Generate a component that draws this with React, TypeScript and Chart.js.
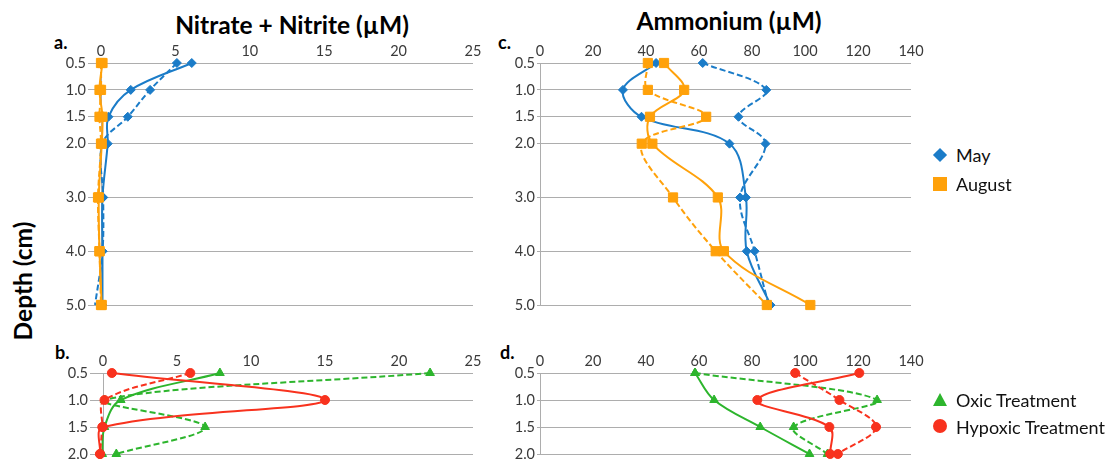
import React, { useEffect, useRef } from "react";
import { Chart, registerables } from "chart.js";

Chart.register(...registerables);

// ---------- data ----------
const depthTicksFull = [0.5, 1.0, 1.5, 2.0, 3.0, 4.0, 5.0];
const depthTicksShort = [0.5, 1.0, 1.5, 2.0];
const depthsFull = [0.5, 1.0, 1.5, 2.0, 3.0, 4.0, 5.0];
const depthsShort = [0.5, 1.0, 1.5, 2.0];

// a. Nitrate + Nitrite (µM), May / August
const nitrateMaySolid = [6.1, 2.0, 0.5, 0.45, 0.1, 0.1, 0.1];
const nitrateMayDashed = [5.1, 3.3, 1.8, 0.1, 0.15, 0.1, -0.4];
const nitrateAugSolid = [0.1, -0.1, 0.1, 0.05, -0.15, -0.1, 0.05];
const nitrateAugDashed = [0.0, 0.0, -0.1, 0.0, -0.2, -0.1, 0.0];

// c. Ammonium (µM), May / August
const ammoniumMaySolid = [43.8, 31.3, 38.3, 71.5, 77.7, 78.0, 87.0];
const ammoniumMayDashed = [61.4, 85.4, 74.9, 85.1, 75.5, 81.0, 86.3];
const ammoniumAugSolid = [46.8, 54.4, 41.5, 42.4, 67.1, 69.4, 102.0];
const ammoniumAugDashed = [40.7, 40.7, 62.7, 38.4, 50.2, 66.3, 85.6];

// b. Nitrate + Nitrite (µM), Oxic / Hypoxic
const nitrateHypoxicSolid = [0.6, 15.0, 0.0, -0.2];
const nitrateHypoxicDashed = [5.9, 0.1, -0.05, -0.2];
const nitrateOxicSolid = [7.9, 1.2, 0.1, -0.05];
const nitrateOxicDashed = [22.1, 0.1, 6.9, 0.9];

// d. Ammonium (µM), Oxic / Hypoxic
const ammoniumHypoxicSolid = [120.5, 82.0, 109.2, 109.5];
const ammoniumHypoxicDashed = [96.3, 113.0, 126.8, 112.4];
const ammoniumOxicSolid = [58.5, 65.7, 83.1, 101.7];
const ammoniumOxicDashed = [58.5, 127.2, 95.7, 108.5];

// ---------- styles ----------
const BLUE = "#1B7CC8";
const ORANGE = "#FFA10A";
const GREEN = "#2DB52D";
const RED = "#F8321E";
const GRID = "#ADADAD";
const TICK = "#3A3A3A";
const FONT = "Lato, 'Open Sans', sans-serif";

function ds(
  label: string,
  xs: number[],
  depths: number[],
  color: string,
  dashed: boolean,
  pointStyle: string,
  radius: number
) {
  return {
    label,
    data: depths.map((d, i) => ({ x: xs[i], y: d })),
    borderColor: color,
    backgroundColor: color,
    borderWidth: 2,
    borderDash: dashed ? [6, 3] : [],
    pointStyle,
    pointRadius: radius,
    pointBorderWidth: 1,
    pointBackgroundColor: color,
    pointBorderColor: color,
    showLine: true,
    tension: 0.35,
    capBezierPoints: false,
    clip: false,
    fill: false,
  };
}

type PanelProps = {
  left: number;
  top: number;
  width: number;
  height: number;
  yAxisWidth: number;
  xAxisHeight: number;
  padRight: number;
  padBottom: number;
  xMax: number;
  xStep: number;
  yMax: number;
  yTicks: number[];
  tickLength: number;
  tickPad: number;
  datasets: any[];
};

function Panel(p: PanelProps) {
  const ref = useRef<HTMLCanvasElement | null>(null);
  useEffect(() => {
    if (!ref.current) return;
    const chart = new Chart(ref.current, {
      type: "scatter",
      data: { datasets: p.datasets },
      options: {
        responsive: false,
        animation: false,
        devicePixelRatio: 1,
        layout: { padding: { left: 0, top: 0, right: p.padRight, bottom: p.padBottom } },
        plugins: { legend: { display: false }, tooltip: { enabled: false } },
        events: [],
        scales: {
          x: {
            type: "linear",
            position: "top",
            min: 0,
            max: p.xMax,
            ticks: {
              stepSize: p.xStep,
              color: TICK,
              font: { family: FONT, size: 14.5 },
              padding: 3,
              maxRotation: 0,
            },
            grid: { display: false, drawTicks: false },
            border: { display: false },
            afterFit: (s: any) => {
              s.height = p.xAxisHeight;
            },
          },
          y: {
            type: "linear",
            reverse: true,
            min: 0.5,
            max: p.yMax,
            afterBuildTicks: (s: any) => {
              s.ticks = p.yTicks.map((v) => ({ value: v }));
            },
            ticks: {
              callback: (v: any) => Number(v).toFixed(1),
              color: TICK,
              font: { family: FONT, size: 14.5 },
              padding: p.tickPad,
            },
            grid: { color: GRID, lineWidth: 1, drawTicks: true, tickLength: p.tickLength },
            border: { display: true, color: GRID, width: 1 },
            afterFit: (s: any) => {
              s.width = p.yAxisWidth;
            },
          },
        },
      } as any,
    });
    return () => chart.destroy();
  }, []);
  return (
    <canvas
      ref={ref}
      width={p.width}
      height={p.height}
      style={{ position: "absolute", left: p.left, top: p.top, width: p.width, height: p.height }}
    />
  );
}

const abs = (o: any) => ({ position: "absolute" as const, ...o });

export default function App() {
  const panelA = [
    ds("August", nitrateAugSolid, depthsFull, ORANGE, false, "rect", 6.5),
    ds("August (dashed)", nitrateAugDashed, depthsFull, ORANGE, true, "rect", 6.5),
    ds("May", nitrateMaySolid, depthsFull, BLUE, false, "rectRot", 4.5),
    ds("May (dashed)", nitrateMayDashed, depthsFull, BLUE, true, "rectRot", 4.5),
  ];
  const panelC = [
    ds("August", ammoniumAugSolid, depthsFull, ORANGE, false, "rect", 6.5),
    ds("August (dashed)", ammoniumAugDashed, depthsFull, ORANGE, true, "rect", 6.5),
    ds("May", ammoniumMaySolid, depthsFull, BLUE, false, "rectRot", 4.5),
    ds("May (dashed)", ammoniumMayDashed, depthsFull, BLUE, true, "rectRot", 4.5),
  ];
  const panelB = [
    ds("Hypoxic Treatment", nitrateHypoxicSolid, depthsShort, RED, false, "circle", 4.5),
    ds("Hypoxic Treatment (dashed)", nitrateHypoxicDashed, depthsShort, RED, true, "circle", 4.5),
    ds("Oxic Treatment", nitrateOxicSolid, depthsShort, GREEN, false, "triangle", 5),
    ds("Oxic Treatment (dashed)", nitrateOxicDashed, depthsShort, GREEN, true, "triangle", 5),
  ];
  const panelD = [
    ds("Hypoxic Treatment", ammoniumHypoxicSolid, depthsShort, RED, false, "circle", 4.5),
    ds("Hypoxic Treatment (dashed)", ammoniumHypoxicDashed, depthsShort, RED, true, "circle", 4.5),
    ds("Oxic Treatment", ammoniumOxicSolid, depthsShort, GREEN, false, "triangle", 5),
    ds("Oxic Treatment (dashed)", ammoniumOxicDashed, depthsShort, GREEN, true, "triangle", 5),
  ];

  const titleStyle = { fontFamily: FONT, fontWeight: 700, fontSize: 24.5, color: "#000", whiteSpace: "nowrap" as const };
  const letterStyle = { fontFamily: FONT, fontWeight: 700, fontSize: 18, color: "#000" };
  const legendText = { fontFamily: FONT, fontSize: 18, color: "#111", whiteSpace: "nowrap" as const, lineHeight: "20px" };

  return (
    <div style={abs({ left: 0, top: 0, width: 1117, height: 465, background: "#fff", overflow: "hidden" })}>
      {/* titles */}
      <div style={abs({ left: 292, top: 24, transform: "translate(-50%,-50%)", ...titleStyle })}>
        Nitrate + Nitrite (µM)
      </div>
      <div style={abs({ left: 729, top: 20, transform: "translate(-50%,-50%)", ...titleStyle })}>
        Ammonium (µM)
      </div>
      <div
        style={abs({
          left: 22,
          top: 281,
          transform: "translate(-50%,-50%) rotate(-90deg)",
          ...titleStyle,
        })}
      >
        Depth (cm)
      </div>

      {/* panel letters */}
      <div style={abs({ left: 54, top: 31, ...letterStyle })}>a.</div>
      <div style={abs({ left: 498, top: 31, ...letterStyle })}>c.</div>
      <div style={abs({ left: 55, top: 341, ...letterStyle })}>b.</div>
      <div style={abs({ left: 500, top: 341, ...letterStyle })}>d.</div>

      <Panel
        left={40}
        top={38}
        width={453}
        height={279}
        yAxisWidth={61}
        xAxisHeight={25}
        padRight={20}
        padBottom={12}
        xMax={25}
        xStep={5}
        yMax={5.0}
        yTicks={depthTicksFull}
        tickLength={13}
        tickPad={2}
        datasets={panelA}
      />
      <Panel
        left={480}
        top={38}
        width={451}
        height={279}
        yAxisWidth={60}
        xAxisHeight={25}
        padRight={20}
        padBottom={12}
        xMax={140}
        xStep={20}
        yMax={5.0}
        yTicks={depthTicksFull}
        tickLength={3}
        tickPad={2}
        datasets={panelC}
      />
      <Panel
        left={40}
        top={348}
        width={453}
        height={117}
        yAxisWidth={63}
        xAxisHeight={25}
        padRight={20}
        padBottom={11}
        xMax={25}
        xStep={5}
        yMax={2.0}
        yTicks={depthTicksShort}
        tickLength={13}
        tickPad={2}
        datasets={panelB}
      />
      <Panel
        left={480}
        top={348}
        width={451}
        height={117}
        yAxisWidth={60}
        xAxisHeight={25}
        padRight={20}
        padBottom={11}
        xMax={140}
        xStep={20}
        yMax={2.0}
        yTicks={depthTicksShort}
        tickLength={3}
        tickPad={2}
        datasets={panelD}
      />

      {/* legend: May / August */}
      <div
        style={abs({
          left: 935,
          top: 150,
          width: 10,
          height: 10,
          background: BLUE,
          transform: "rotate(45deg)",
        })}
      />
      <div style={abs({ left: 956, top: 145, ...legendText })}>May</div>
      <div style={abs({ left: 933, top: 177, width: 14, height: 14, background: ORANGE })} />
      <div style={abs({ left: 956, top: 174, ...legendText })}>August</div>

      {/* legend: Oxic / Hypoxic */}
      <div
        style={abs({
          left: 933,
          top: 393,
          width: 0,
          height: 0,
          borderLeft: "7px solid transparent",
          borderRight: "7px solid transparent",
          borderBottom: "13px solid " + GREEN,
        })}
      />
      <div style={abs({ left: 956, top: 390, ...legendText })}>Oxic Treatment</div>
      <div style={abs({ left: 933, top: 419, width: 14, height: 14, borderRadius: 7, background: RED })} />
      <div style={abs({ left: 956, top: 417, ...legendText })}>Hypoxic Treatment</div>
    </div>
  );
}
